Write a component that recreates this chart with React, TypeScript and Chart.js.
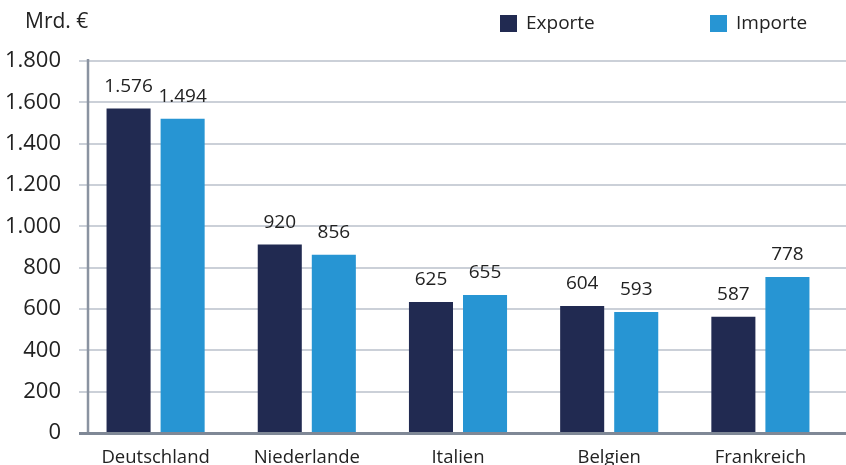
import React, { useEffect, useRef } from "react";
import { Chart, registerables } from "chart.js";

Chart.register(...registerables);

const categories = ["Deutschland", "Niederlande", "Italien", "Belgien", "Frankreich"];
const exportValues = [1570, 912, 634, 615, 562];
const importValues = [1520, 862, 668, 586, 755];
const exportLabels = ["1.576", "920", "625", "604", "587"];
const importLabels = ["1.494", "856", "655", "593", "778"];
const seriesNames = ["Exporte", "Importe"];
const unitLabel = "Mrd. €";
const yMin = 0;
const yMax = 1800;
const yStep = 200;

const EXPORT_COLOR = "#212a51";
const IMPORT_COLOR = "#2795d3";
const TEXT_COLOR = "#222222";
const FONT = "'Open Sans', Lato, sans-serif";

function formatDe(v: number): string {
  const s = String(Math.round(v));
  return s.replace(/\B(?=(\d{3})+(?!\d))/g, ".");
}

const decorPlugin = {
  id: "decor",
  beforeDatasetsDraw(chart: any) {
    const { ctx, scales, chartArea, width } = chart;
    const y = scales.y;
    ctx.save();
    ctx.strokeStyle = "#cbd0d8";
    ctx.lineWidth = 2;
    y.ticks.forEach((t: any) => {
      if (t.value === 0) return;
      const py = Math.round(y.getPixelForValue(t.value));
      ctx.beginPath();
      ctx.moveTo(chartArea.left - 1, py);
      ctx.lineTo(width, py);
      ctx.stroke();
    });
    ctx.restore();
  },
  afterDatasetsDraw(chart: any) {
    const { ctx, scales, chartArea, width } = chart;
    const y = scales.y;
    ctx.save();
    ctx.strokeStyle = "#8a93a1";
    ctx.lineWidth = 2.5;
    ctx.beginPath();
    ctx.moveTo(chartArea.left + 8, y.getPixelForValue(yMax) - 2);
    ctx.lineTo(chartArea.left + 8, y.getPixelForValue(0));
    ctx.stroke();
    ctx.strokeStyle = "#7f8896";
    ctx.lineWidth = 3;
    const by = y.getPixelForValue(0) + 0.5;
    ctx.beginPath();
    ctx.moveTo(chartArea.left - 1, by);
    ctx.lineTo(width, by);
    ctx.stroke();

    ctx.fillStyle = TEXT_COLOR;
    ctx.font = `19px ${FONT}`;
    ctx.textAlign = "center";
    ctx.textBaseline = "middle";
    const labelSets = [exportLabels, importLabels];
    chart.data.datasets.forEach((_: any, di: number) => {
      const meta = chart.getDatasetMeta(di);
      meta.data.forEach((bar: any, i: number) => {
        ctx.fillText(labelSets[di][i], bar.x, bar.y - 22);
      });
    });
    ctx.restore();
  },
  afterDraw(chart: any) {
    const { ctx } = chart;
    ctx.save();
    ctx.fillStyle = TEXT_COLOR;
    ctx.textBaseline = "middle";
    ctx.textAlign = "left";
    ctx.font = `21px ${FONT}`;
    ctx.fillText(unitLabel, 25, 22);
    const colors = [EXPORT_COLOR, IMPORT_COLOR];
    const xs = [500, 710];
    seriesNames.forEach((name, i) => {
      ctx.fillStyle = colors[i];
      ctx.fillRect(xs[i], 15, 17, 17);
      ctx.fillStyle = TEXT_COLOR;
      ctx.font = `19px ${FONT}`;
      ctx.fillText(name, xs[i] + 26, 23.5);
    });
    ctx.restore();
  },
};

export default function App() {
  const canvasRef = useRef<HTMLCanvasElement | null>(null);

  useEffect(() => {
    document.body.style.margin = "0";
    const canvas = canvasRef.current;
    if (!canvas) return;
    const chart = new Chart(canvas, {
      type: "bar",
      data: {
        labels: categories,
        datasets: [
          {
            label: seriesNames[0],
            data: exportValues,
            backgroundColor: EXPORT_COLOR,
            borderWidth: 0,
            categoryPercentage: 0.715,
            barPercentage: 0.815,
          },
          {
            label: seriesNames[1],
            data: importValues,
            backgroundColor: IMPORT_COLOR,
            borderWidth: 0,
            categoryPercentage: 0.715,
            barPercentage: 0.815,
          },
        ],
      },
      options: {
        animation: false,
        responsive: false,
        maintainAspectRatio: false,
        devicePixelRatio: 1,
        layout: { padding: { top: 61, right: 10, left: 0, bottom: 0 } },
        plugins: {
          legend: { display: false },
          tooltip: { enabled: false },
          title: { display: false },
        },
        scales: {
          x: {
            grid: { display: false },
            border: { display: false },
            ticks: {
              color: TEXT_COLOR,
              font: { family: FONT, size: 18.5 },
              padding: 6,
              maxRotation: 0,
              autoSkip: false,
            },
            afterFit: (scale: any) => {
              scale.height = 32;
            },
          },
          y: {
            min: yMin,
            max: yMax,
            grid: { display: false },
            border: { display: false },
            ticks: {
              stepSize: yStep,
              color: TEXT_COLOR,
              font: { family: FONT, size: 22 },
              padding: 11,
              callback: (v: any) => formatDe(Number(v)),
            },
            afterFit: (scale: any) => {
              scale.width = 80;
            },
          },
        },
      },
      plugins: [decorPlugin],
    });
    return () => chart.destroy();
  }, []);

  return (
    <div style={{ width: 846, height: 465 }}>
      <canvas ref={canvasRef} width={846} height={465} style={{ display: "block" }} />
    </div>
  );
}
